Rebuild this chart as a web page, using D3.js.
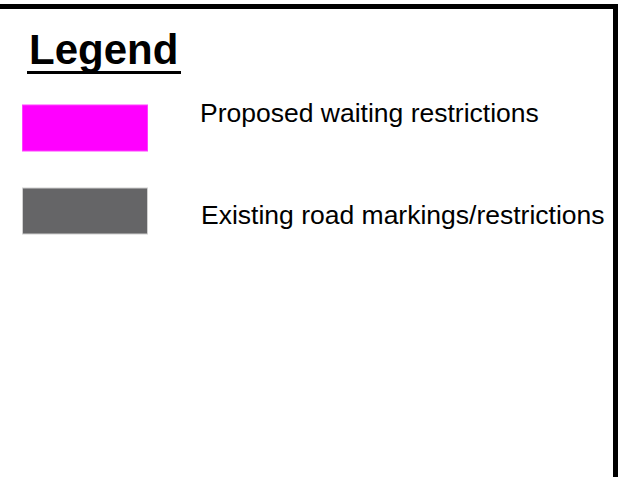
<!DOCTYPE html>
<html>
<head>
<meta charset="utf-8">
<script src="https://cdn.jsdelivr.net/npm/d3@7"></script>
<style>
  body { margin: 0; background: white; }
  svg { display: block; }
</style>
</head>
<body>
<div id="container"></div>
<script>
var width = 618,
    height = 477;

// legend entries
var labels = ["Proposed waiting restrictions", "Existing road markings/restrictions"];
var colors = ["#ff00ff", "#656567"];
var strokes = ["#ff40ff", "#d0d0d0"];
var title = "Legend";

var svg = d3.select("#container")
            .append("svg")
            .attr("width", width)
            .attr("height", height);

svg.append("rect")
   .attr("width", width).attr("height", height)
   .style("fill", "white");

// frame: top and right edges
svg.append("rect")
   .attr("x", 0).attr("y", 4)
   .attr("width", width).attr("height", 5)
   .style("fill", "#000");

svg.append("rect")
   .attr("x", 613).attr("y", 4)
   .attr("width", 5).attr("height", height - 4)
   .style("fill", "#000");

// title
svg.append("text")
   .attr("x", 29)
   .attr("y", 64)
   .style("font-family", "'Liberation Sans', Arial, sans-serif")
   .style("font-weight", "bold")
   .style("font-size", "42px")
   .style("fill", "#000")
   .text(title);

svg.append("rect")
   .attr("x", 27).attr("y", 71)
   .attr("width", 154).attr("height", 3)
   .style("fill", "#000");

var yRect = d3.scalePoint().domain(labels).range([105, 188]);
var yText = d3.scalePoint().domain(labels).range([122, 224]);

var items = svg.append("g").attr("id", "items");

items.selectAll(".swatch")
     .data(labels)
     .enter().append("rect")
     .attr("class", "swatch")
     .attr("x", 22.5)
     .attr("y", function(d) { return yRect(d); })
     .attr("width", 125)
     .attr("height", 46)
     .style("fill", function(d, i) { return colors[i]; })
     .style("stroke", function(d, i) { return strokes[i]; })
     .style("stroke-width", 1);

items.selectAll(".label")
     .data(labels)
     .enter().append("text")
     .attr("class", "label")
     .attr("x", function(d, i) { return i == 0 ? 200 : 201; })
     .attr("y", function(d) { return yText(d); })
     .style("font-family", "'Liberation Sans', Arial, sans-serif")
     .style("font-size", "26.5px")
     .style("fill", "#000")
     .text(function(d) { return d; });
</script>
</body>
</html>
